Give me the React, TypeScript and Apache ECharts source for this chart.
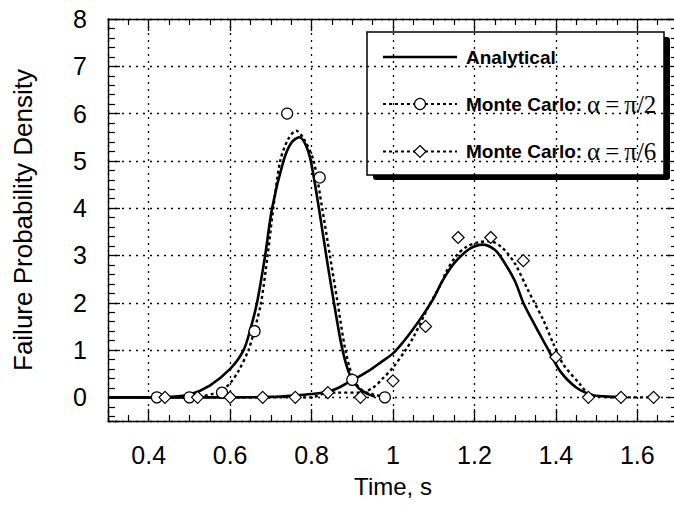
import React, { useEffect, useRef } from "react";
import * as echarts from "echarts";

// Analytical curve, alpha = pi/2 (first peak)
const analyticalAX = [0.3, 0.4, 0.45, 0.5, 0.55, 0.6, 0.633, 0.65, 0.666, 0.686, 0.703, 0.731, 0.75, 0.77, 0.785, 0.798, 0.818, 0.836, 0.855, 0.876, 0.895, 0.915, 0.936, 0.955];
const analyticalAY = [0, 0, 0.01, 0.06, 0.25, 0.6, 1.0, 1.45, 2.0, 3.0, 4.0, 5.0, 5.38, 5.5, 5.35, 5.0, 4.0, 3.0, 2.0, 1.0, 0.45, 0.2, 0.08, 0.02];
// Analytical curve, alpha = pi/6 (second peak)
const analyticalBX = [0.3, 0.6, 0.7, 0.76, 0.8, 0.84, 0.87, 0.9, 0.94, 0.97, 1.0, 1.025, 1.05, 1.075, 1.1, 1.12, 1.14, 1.16, 1.19, 1.22, 1.25, 1.27, 1.3, 1.32, 1.35, 1.378, 1.41, 1.45, 1.49, 1.52, 1.555];
const analyticalBY = [0, 0, 0.01, 0.04, 0.07, 0.12, 0.22, 0.36, 0.56, 0.74, 0.93, 1.17, 1.45, 1.76, 2.1, 2.44, 2.72, 2.93, 3.15, 3.23, 3.12, 2.9, 2.45, 2.0, 1.5, 1.06, 0.56, 0.21, 0.05, 0.02, 0.01];
// Monte Carlo fitted curves (dotted)
const mcHalfX = [0.42, 0.5, 0.53, 0.56, 0.58, 0.6, 0.62, 0.645, 0.662, 0.676, 0.692, 0.706, 0.723, 0.742, 0.762, 0.782, 0.805, 0.826, 0.845, 0.864, 0.883, 0.9, 0.915, 0.93, 0.95, 0.98];
const mcHalfY = [0, 0, 0.02, 0.08, 0.15, 0.3, 0.55, 1.0, 1.5, 2.0, 3.0, 4.0, 5.0, 5.45, 5.64, 5.45, 5.0, 4.0, 3.0, 2.0, 1.0, 0.45, 0.22, 0.12, 0.07, 0];
const mcSixthX = [0.44, 0.8, 0.83, 0.86, 0.92, 0.95, 0.975, 1.0, 1.03, 1.05, 1.078, 1.09, 1.118, 1.13, 1.155, 1.18, 1.21, 1.238, 1.27, 1.3, 1.328, 1.345, 1.37, 1.394, 1.418, 1.459, 1.48, 1.5, 1.55, 1.64];
const mcSixthY = [0, 0, 0.08, 0.1, 0.1, 0.2, 0.4, 0.63, 0.99, 1.27, 1.76, 1.97, 2.4, 2.64, 2.99, 3.18, 3.28, 3.3, 3.15, 2.82, 2.33, 2.04, 1.62, 1.13, 0.7, 0.28, 0.07, 0.02, 0, 0];
// Monte Carlo sample markers
const circleX = [0.42, 0.5, 0.58, 0.66, 0.74, 0.82, 0.9, 0.98];
const circleY = [0, 0, 0.1, 1.4, 6.0, 4.65, 0.37, 0];
const diamondX = [0.44, 0.52, 0.6, 0.68, 0.76, 0.84, 0.92, 1.0, 1.08, 1.16, 1.24, 1.32, 1.4, 1.48, 1.56, 1.64];
const diamondY = [0, 0, 0, 0, 0, 0.1, 0, 0.35, 1.5, 3.38, 3.38, 2.89, 0.85, 0, 0, 0];

const xLabels = ["0.4", "0.6", "0.8", "1", "1.2", "1.4", "1.6"];
const yLabels = ["0", "1", "2", "3", "4", "5", "6", "7", "8"];
const legendNames = ["Analytical", "Monte Carlo:", "Monte Carlo:"];
const legendGreek = ["", "α=π/2", "α=π/6"];

const zip = (xs: number[], ys: number[]) => xs.map((x, i) => [x, ys[i]]);
const SANS = "'Liberation Sans', Arial, sans-serif";
const SERIF = "'Liberation Serif', 'Times New Roman', serif";

export default function App() {
  const ref = useRef<HTMLDivElement>(null);
  useEffect(() => {
    if (!ref.current) return;
    const chart = echarts.init(ref.current, undefined, { renderer: "svg" });
    const fmtX = (v: number) => {
      const s = String(Math.round(v * 100) / 100);
      return xLabels.includes(s) ? s : "";
    };
    const fmtY = (v: number) => {
      const s = String(Math.round(v * 100) / 100);
      return yLabels.includes(s) ? s : "";
    };
    const frame = { show: true, onZero: false, lineStyle: { color: "#000", width: 1.4 } };
    const majorTick = { show: true, inside: true, length: 12, lineStyle: { color: "#000", width: 1.3 } };
    const minorX = { show: true, splitNumber: 4, length: 6, lineStyle: { color: "#000", width: 1.2 } };
    const minorY = { show: true, splitNumber: 5, length: 7, lineStyle: { color: "#000", width: 1.2 } };
    const grid = { show: true, lineStyle: { color: "#000", width: 1.3, type: [2, 5] } };
    const baseX = { type: "value", min: 0.3, max: 1.7, splitNumber: 7 };
    const baseY = { type: "value", min: -0.5, max: 8, splitNumber: 8 };

    const legendItems: any[] = [
      { type: "rect", shape: { x: 373, y: 37, width: 297, height: 143, r: 3 }, style: { fill: "#000" } },
      { type: "rect", shape: { x: 367, y: 32, width: 297, height: 143 }, style: { fill: "#fff", stroke: "#000", lineWidth: 1.5 } },
      { type: "line", shape: { x1: 383, y1: 57, x2: 457, y2: 57 }, style: { stroke: "#000", lineWidth: 2.5 } },
      { type: "line", shape: { x1: 383, y1: 104, x2: 457, y2: 104 }, style: { stroke: "#000", lineWidth: 2, lineDash: [3, 3] } },
      { type: "circle", shape: { cx: 420, cy: 104, r: 5.5 }, style: { fill: "#fff", stroke: "#000", lineWidth: 1.2 } },
      { type: "line", shape: { x1: 383, y1: 151.5, x2: 457, y2: 151.5 }, style: { stroke: "#000", lineWidth: 2, lineDash: [3, 3] } },
      { type: "polygon", shape: { points: [[420, 145.5], [426, 151.5], [420, 157.5], [414, 151.5]] }, style: { fill: "#fff", stroke: "#000", lineWidth: 1.2 } },
    ];
    const rowY = [57.5, 104, 151.5];
    legendNames.forEach((n, i) => {
      legendItems.push({
        type: "text",
        x: 466,
        y: rowY[i],
        style: {
          text: legendGreek[i] ? n + "{g|\u2009" + legendGreek[i].replace("=", "\u2009=\u2009") + "}" : n,
          fill: "#000",
          fontFamily: SANS,
          fontWeight: "bold",
          fontSize: 19,
          verticalAlign: "middle",
          align: "left",
          rich: { g: { fontFamily: SERIF, fontSize: 25, fill: "#000", fontWeight: "normal" } },
        },
      });
    });

    chart.setOption({
      animation: false,
      backgroundColor: "#fff",
      grid: { left: 108, top: 19, width: 570, height: 402, containLabel: false, outerBoundsMode: "none" },
      xAxis: [
        {
          ...baseX,
          position: "bottom",
          axisLine: frame,
          axisTick: majorTick,
          minorTick: minorX,
          splitLine: grid,
          axisLabel: { show: true, margin: 21, fontSize: 25, color: "#000", fontFamily: SANS, formatter: fmtX },
          name: "Time, s",
          nameLocation: "middle",
          nameGap: 53,
          nameMoveOverlap: false,
          nameTextStyle: { fontSize: 24, color: "#000", fontFamily: SANS },
        },
        {
          ...baseX,
          position: "top",
          axisLine: frame,
          axisTick: majorTick,
          minorTick: minorX,
          splitLine: { show: false },
          axisLabel: { show: false },
        },
      ],
      yAxis: [
        {
          ...baseY,
          position: "left",
          axisLine: frame,
          axisTick: majorTick,
          minorTick: minorY,
          splitLine: grid,
          axisLabel: { show: true, margin: 21, fontSize: 25, color: "#000", fontFamily: SANS, formatter: fmtY },
          name: "Failure Probability Density",
          nameLocation: "middle",
          nameGap: 72,
          nameMoveOverlap: false,
          nameTextStyle: { fontSize: 26, color: "#000", fontFamily: SANS },
        },
        {
          ...baseY,
          position: "right",
          axisLine: frame,
          axisTick: majorTick,
          minorTick: minorY,
          splitLine: { show: false },
          axisLabel: { show: false },
        },
      ],
      series: [
        { name: "Analytical", type: "line", data: zip(analyticalAX, analyticalAY), smooth: 0.3, symbol: "none", lineStyle: { color: "#000", width: 2.6 }, z: 3 },
        { name: "Analytical", type: "line", data: zip(analyticalBX, analyticalBY), smooth: 0.3, symbol: "none", lineStyle: { color: "#000", width: 2.6 }, z: 3 },
        { name: "Monte Carlo:α=π/2", type: "line", data: zip(mcHalfX, mcHalfY), smooth: 0.3, symbol: "none", lineStyle: { color: "#000", width: 2.4, type: [3, 3] }, z: 3 },
        { name: "Monte Carlo:α=π/6", type: "line", data: zip(mcSixthX, mcSixthY), smooth: 0.3, symbol: "none", lineStyle: { color: "#000", width: 2.4, type: [3, 3] }, z: 3 },
        { name: "Monte Carlo:α=π/2", type: "scatter", data: zip(circleX, circleY), symbol: "circle", symbolSize: 11, itemStyle: { color: "#fff", borderColor: "#000", borderWidth: 1.2, opacity: 1 }, z: 4 },
        { name: "Monte Carlo:α=π/6", type: "scatter", data: zip(diamondX, diamondY), symbol: "diamond", symbolSize: [12, 12], itemStyle: { color: "#fff", borderColor: "#000", borderWidth: 1.2, opacity: 1 }, z: 4 },
      ],
      graphic: [{ type: "group", z: 100, children: legendItems }],
    });
    return () => chart.dispose();
  }, []);
  return <div ref={ref} style={{ position: "absolute", left: 0, top: 0, width: 674, height: 506 }} />;
}
